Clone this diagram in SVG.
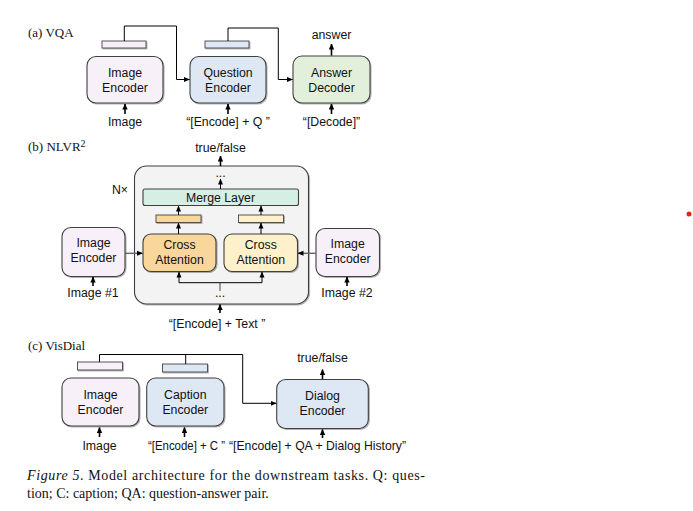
<svg xmlns="http://www.w3.org/2000/svg" width="693" height="511" viewBox="0 0 693 511">
<defs>
<marker id="ah" viewBox="0 0 6 6" refX="5.5" refY="3" markerWidth="6" markerHeight="6" markerUnits="userSpaceOnUse" orient="auto"><path d="M0,0.5 L6,3 L0,5.5 z" fill="#000"/></marker>
<marker id="ahb" viewBox="0 0 6 6" refX="5.5" refY="3" markerWidth="6" markerHeight="6" markerUnits="userSpaceOnUse" orient="auto"><path d="M0,0.3 L6,3 L0,5.7 z" fill="#000"/></marker>
<filter id="sh" x="-10%" y="-10%" width="130%" height="130%"><feDropShadow dx="1" dy="1" stdDeviation="0.6" flood-color="#000" flood-opacity="0.3"/></filter>
</defs>
<style>
.box{stroke:#3f3f3f;stroke-width:1.1}
.bar{stroke:#444;stroke-width:0.9}
.t{font-family:"Liberation Sans",Arial,sans-serif;font-size:12.3px;fill:#111;text-anchor:middle}
.lab{font-family:"Liberation Serif","Times New Roman",serif;font-size:13px;fill:#111}
.cap{font-family:"Liberation Serif","Times New Roman",serif;font-size:14px;fill:#111}
.c{fill:none;stroke:#000;stroke-width:1;marker-end:url(#ah)}
.in{fill:none;stroke:#000;stroke-width:1.6;marker-end:url(#ahb)}
.g{fill:none;stroke:#666;stroke-width:1.4;marker-end:url(#ah)}
.img{fill:#f7f0f8}
.blue{fill:#dde8f4}
.green{fill:#e2efda}
</style>
<rect width="693" height="511" fill="#fff"/>

<!-- (a) VQA -->
<text class="lab" x="28" y="37">(a) VQA</text>
<g id="vqa-img-bar"><rect class="bar img" x="102" y="41" width="44" height="7" filter="url(#sh)"/></g>
<g id="vqa-q-bar"><rect class="bar blue" x="205" y="41" width="44" height="7" filter="url(#sh)"/></g>
<g id="vqa-image-encoder"><rect class="box img" x="87" y="56.5" width="76" height="46.5" rx="9" filter="url(#sh)"/><text class="t" x="125" y="77">Image</text><text class="t" x="125" y="92">Encoder</text></g>
<g id="vqa-question-encoder"><rect class="box blue" x="190" y="56.5" width="76" height="46.5" rx="9" filter="url(#sh)"/><text class="t" x="228" y="77">Question</text><text class="t" x="228" y="92">Encoder</text></g>
<g id="vqa-answer-decoder"><rect class="box green" x="293" y="56" width="77" height="47" rx="9" filter="url(#sh)"/><text class="t" x="331.5" y="77">Answer</text><text class="t" x="331.5" y="92">Decoder</text></g>
<g id="vqa-labels">
<text class="t" x="331.5" y="38.5">answer</text>
<text class="t" x="125" y="126">Image</text>
<text class="t" x="228" y="126">“[Encode] + Q ”</text>
<text class="t" x="331.5" y="126">“[Decode]”</text>
</g>

<!-- (b) NLVR2 -->
<text class="lab" x="28" y="151">(b) NLVR<tspan dy="-4" font-size="10">2</tspan></text>
<g id="nlvr-block"><rect x="134.5" y="166" width="174" height="138" rx="12" fill="#f3f3f3" stroke="#3f3f3f" stroke-width="1.1" filter="url(#sh)"/></g>
<g id="nlvr-merge"><rect class="box" x="143" y="189" width="155.5" height="16.5" rx="2" fill="#d5efe4"/><text class="t" x="220.5" y="201.8">Merge Layer</text></g>
<g id="nlvr-bar-l"><rect class="bar" x="156" y="215" width="45" height="7.5" fill="#f9d69c" filter="url(#sh)"/></g>
<g id="nlvr-bar-r"><rect class="bar" x="238.5" y="215" width="45" height="7.5" fill="#fff0cc" filter="url(#sh)"/></g>
<g id="nlvr-cross-l"><rect class="box" x="143" y="234" width="73" height="37.5" rx="8" fill="#f9d69c" filter="url(#sh)"/><text class="t" x="179.5" y="249">Cross</text><text class="t" x="179.5" y="264">Attention</text></g>
<g id="nlvr-cross-r"><rect class="box" x="224" y="234" width="73.5" height="37.5" rx="8" fill="#fff0cc" filter="url(#sh)"/><text class="t" x="260.8" y="249">Cross</text><text class="t" x="260.8" y="264">Attention</text></g>
<g id="nlvr-image-encoder-1"><rect class="box img" x="62" y="227.5" width="63" height="49" rx="9" filter="url(#sh)"/><text class="t" x="93.5" y="247">Image</text><text class="t" x="93.5" y="262">Encoder</text></g>
<g id="nlvr-image-encoder-2"><rect class="box img" x="316" y="228.5" width="63.5" height="48" rx="9" filter="url(#sh)"/><text class="t" x="347.7" y="248">Image</text><text class="t" x="347.7" y="263">Encoder</text></g>
<g id="nlvr-labels">
<text class="t" x="220.5" y="151.5">true/false</text>
<text class="t" x="220.5" y="177">...</text>
<text class="t" x="120" y="194">N×</text>
<text class="t" x="220" y="297">...</text>
<text class="t" x="217" y="328">“[Encode] + Text ”</text>
<text class="t" x="93" y="297">Image #1</text>
<text class="t" x="347" y="297">Image #2</text>
</g>

<!-- (c) VisDial -->
<text class="lab" x="28" y="350">(c) VisDial</text>
<g id="vd-img-bar"><rect class="bar img" x="77.5" y="362" width="45" height="8" filter="url(#sh)"/></g>
<g id="vd-cap-bar"><rect class="bar blue" x="162.5" y="364" width="45" height="8" filter="url(#sh)"/></g>
<g id="vd-image-encoder"><rect class="box img" x="62" y="378" width="77" height="48" rx="9" filter="url(#sh)"/><text class="t" x="100.5" y="398.5">Image</text><text class="t" x="100.5" y="413.5">Encoder</text></g>
<g id="vd-caption-encoder"><rect class="box blue" x="146.7" y="378" width="77.3" height="48" rx="9" filter="url(#sh)"/><text class="t" x="185.3" y="398.5">Caption</text><text class="t" x="185.3" y="413.5">Encoder</text></g>
<g id="vd-dialog-encoder"><rect class="box blue" x="276.7" y="379.5" width="91.6" height="49" rx="9" filter="url(#sh)"/><text class="t" x="322.5" y="399.5">Dialog</text><text class="t" x="322.5" y="414.5">Encoder</text></g>
<g id="vd-labels">
<text class="t" x="322.5" y="362">true/false</text>
<text class="t" x="99.5" y="450">Image</text>
<text class="t" x="148" y="450" style="text-anchor:start" textLength="77" lengthAdjust="spacingAndGlyphs">“[Encode] + C ”</text>
<text class="t" x="229" y="450" style="text-anchor:start" textLength="177" lengthAdjust="spacingAndGlyphs">“[Encode] + QA + Dialog History”</text>
</g>

<!-- connectors -->
<g id="connectors">
<path class="c" d="M124.3 41 V26 H176.5 V79.5 H189.5"/>
<path class="c" d="M228 41 V28 H278.3 V79.5 H292.5"/>
<path class="in" d="M125 114 V104"/>
<path class="in" d="M228 114 V104"/>
<path class="in" d="M331.5 114 V104"/>
<path class="in" d="M331.5 55.5 V44"/>
<path class="in" d="M220.5 166 V156"/>
<path class="c" d="M220.5 189 V179"/>
<path class="c" d="M178.5 215 V206"/>
<path class="c" d="M261 215 V206"/>
<path class="c" d="M178.5 234 V223"/>
<path class="c" d="M261 234 V223"/>
<path d="M220 291 V282.7" fill="none" stroke="#777" stroke-width="1.4"/>
<path class="c" d="M220 282.7 H179 V272"/>
<path class="c" d="M220 282.7 H262 V272"/>
<path class="in" d="M220 313 V304.5"/>
<path class="g" d="M125 253.3 H142.5"/>
<path class="g" d="M316 253.3 H298"/>
<path class="in" d="M93 286 V277"/>
<path class="in" d="M347 286 V277"/>
<path class="c" d="M99.5 362 V354.5 H242.7 V403.3 H276.2"/>
<path d="M185.7 364 V354.5" fill="none" stroke="#000" stroke-width="1"/>
<path class="in" d="M322.5 379 V369.5"/>
<path class="in" d="M99.5 437 V427.5"/>
<path class="in" d="M184.5 437 V427.5"/>
<path class="in" d="M322.5 438 V429.5"/>
</g>

<!-- caption -->
<text class="cap" x="27" y="480" textLength="398" lengthAdjust="spacing"><tspan font-style="italic">Figure 5</tspan>. Model architecture for the downstream tasks.  Q: ques-</text>
<text class="cap" x="27" y="497.5">tion; C: caption; QA: question-answer pair.</text>

<circle cx="689" cy="214" r="2.5" fill="#e52222"/>
</svg>
